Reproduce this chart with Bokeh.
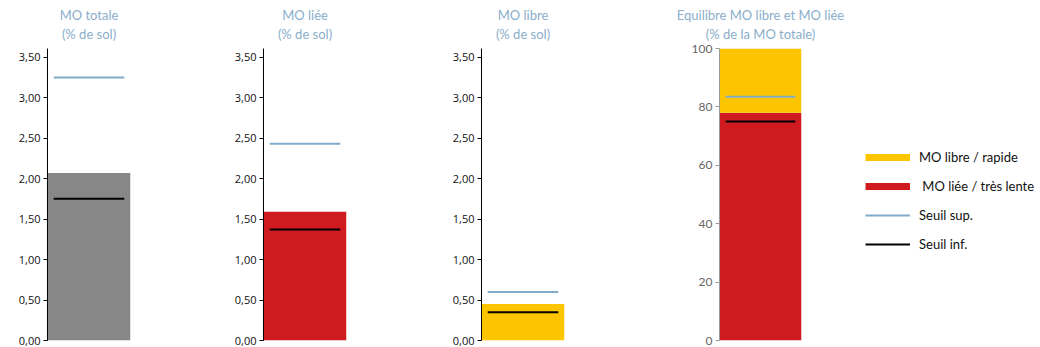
from bokeh.plotting import figure
from bokeh.layouts import row
from bokeh.models import Range1d, FixedTicker, CustomJSTickFormatter, Legend, LegendItem, Title
from bokeh.embed import file_html
from bokeh.resources import INLINE

# ---- data ----
panel_titles = [("MO totale", "(% de sol)"), ("MO liée", "(% de sol)"), ("MO libre", "(% de sol)")]
values = [2.07, 1.59, 0.45]
seuil_sup = [3.25, 2.43, 0.60]
seuil_inf = [1.75, 1.37, 0.35]
bar_colors = ["#878787", "#cf1a1f", "#fdc500"]
yticks = [0, 0.5, 1.0, 1.5, 2.0, 2.5, 3.0, 3.5]

eq_title = ("Equilibre MO libre et MO liée", "(% de la MO totale)")
part_liee = 78.0
part_libre = 22.0
eq_sup = 83.5
eq_inf = 75.0
eq_ticks = [0, 20, 40, 60, 80, 100]
legend_labels = ["MO libre / rapide", " MO liée / très lente", "Seuil sup.", "Seuil inf."]

# ---- styles ----
TITLE_COLOR = "#8aaecb"
SUP_COLOR = "#82abc9"
INF_COLOR = "#000000"
YELLOW = "#fdc500"
RED = "#cf1a1f"
FONT = "Lato"
TICK_FONT = "Open Sans"
INSET = 0.075
FRAME_H = 292
TOP = 48
BOTTOM = 7


def base_fig(frame_w, left, right, ymax):
    p = figure(frame_width=frame_w, frame_height=FRAME_H, title=None,
               min_border_left=left, min_border_right=right,
               min_border_top=TOP, min_border_bottom=BOTTOM,
               x_range=Range1d(0, 1), y_range=Range1d(0, ymax),
               x_axis_location=None, toolbar_location=None,
               output_backend="svg")
    p.grid.visible = False
    p.outline_line_color = None
    p.background_fill_color = "white"
    p.border_fill_color = "white"
    return p


def add_titles(p, lines):
    near = Title(text=lines[1], align="center", text_font=FONT, text_font_size="13px",
                 text_font_style="normal", text_color=TITLE_COLOR,
                 standoff=14, offset=0, padding=0, text_line_height=1.0)
    far = Title(text=lines[0], align="center", text_font=FONT, text_font_size="13px",
                text_font_style="normal", text_color=TITLE_COLOR,
                standoff=-12, offset=0, padding=0, text_line_height=1.0)
    p.add_layout(near, "above")
    p.add_layout(far, "above")


figs = []
widths = [(83, 47, 86), (83, 47, 88), (83, 47, 108)]
for i in range(3):
    fw, lb, rb = widths[i]
    p = base_fig(fw, lb, rb, 3.607)
    add_titles(p, panel_titles[i])
    p.quad(left=[0], right=[1], bottom=[0], top=[values[i]],
           fill_color=bar_colors[i], line_color=None)
    p.segment(x0=[INSET], x1=[1 - INSET], y0=[seuil_sup[i]], y1=[seuil_sup[i]],
              line_color=SUP_COLOR, line_width=2)
    p.segment(x0=[INSET], x1=[1 - INSET], y0=[seuil_inf[i]], y1=[seuil_inf[i]],
              line_color=INF_COLOR, line_width=2)
    ax = p.yaxis[0]
    ax.ticker = FixedTicker(ticks=yticks)
    ax.formatter = CustomJSTickFormatter(code="return tick.toFixed(2).replace('.', ',');")
    ax.major_tick_out = 4
    ax.major_tick_in = 0
    ax.minor_tick_out = 0
    ax.minor_tick_in = 0
    ax.axis_line_color = "black"
    ax.major_tick_line_color = "black"
    ax.major_label_text_color = "#111111"
    ax.major_label_text_font = TICK_FONT
    ax.major_label_text_font_size = "11px"
    ax.major_label_standoff = 3
    figs.append(p)

# ---- balance panel ----
p4 = base_fig(82, 47, 239, 100)
add_titles(p4, eq_title)
p4.quad(left=[0], right=[1], bottom=[0], top=[part_liee],
        fill_color=RED, line_color=None)
p4.quad(left=[0], right=[1], bottom=[part_liee], top=[part_liee + part_libre],
        fill_color=YELLOW, line_color=None)
r_sup = p4.segment(x0=[INSET], x1=[1 - INSET], y0=[eq_sup], y1=[eq_sup],
                   line_color=SUP_COLOR, line_width=2)
r_inf = p4.segment(x0=[INSET], x1=[1 - INSET], y0=[eq_inf], y1=[eq_inf],
                   line_color=INF_COLOR, line_width=2)
# hidden proxies so that the legend shows full-width colour swatches
r_libre_key = p4.segment(x0=[0], x1=[1], y0=[part_liee + part_libre], y1=[part_liee + part_libre],
                         line_color=YELLOW, line_width=7, line_cap="butt", visible=False)
r_liee_key = p4.segment(x0=[0], x1=[1], y0=[part_liee], y1=[part_liee],
                        line_color=RED, line_width=7, line_cap="butt", visible=False)
ax = p4.yaxis[0]
ax.ticker = FixedTicker(ticks=eq_ticks)
ax.major_tick_out = 4
ax.major_tick_in = 0
ax.minor_tick_out = 0
ax.minor_tick_in = 0
ax.axis_line_color = "#999999"
ax.major_tick_line_color = "#999999"
ax.major_label_text_color = "#666666"
ax.major_label_text_font = FONT
ax.major_label_text_font_size = "12px"
ax.major_label_standoff = 3

legend = Legend(items=[
    LegendItem(label=legend_labels[0], renderers=[r_libre_key]),
    LegendItem(label=legend_labels[1], renderers=[r_liee_key]),
    LegendItem(label=legend_labels[2], renderers=[r_sup]),
    LegendItem(label=legend_labels[3], renderers=[r_inf]),
], location=(64, 88))
legend.click_policy = "none"
legend.glyph_width = 45
legend.glyph_height = 8
legend.label_standoff = 9
legend.label_text_font = FONT
legend.label_text_font_size = "13px"
legend.label_text_color = "#111111"
legend.label_height = 14
legend.spacing = 13
legend.padding = 0
legend.margin = 0
legend.border_line_color = None
legend.background_fill_alpha = 0
p4.add_layout(legend, "right")
figs.append(p4)

layout = row(*figs, spacing=0)
open("out.html", "w").write(file_html(layout, INLINE))
